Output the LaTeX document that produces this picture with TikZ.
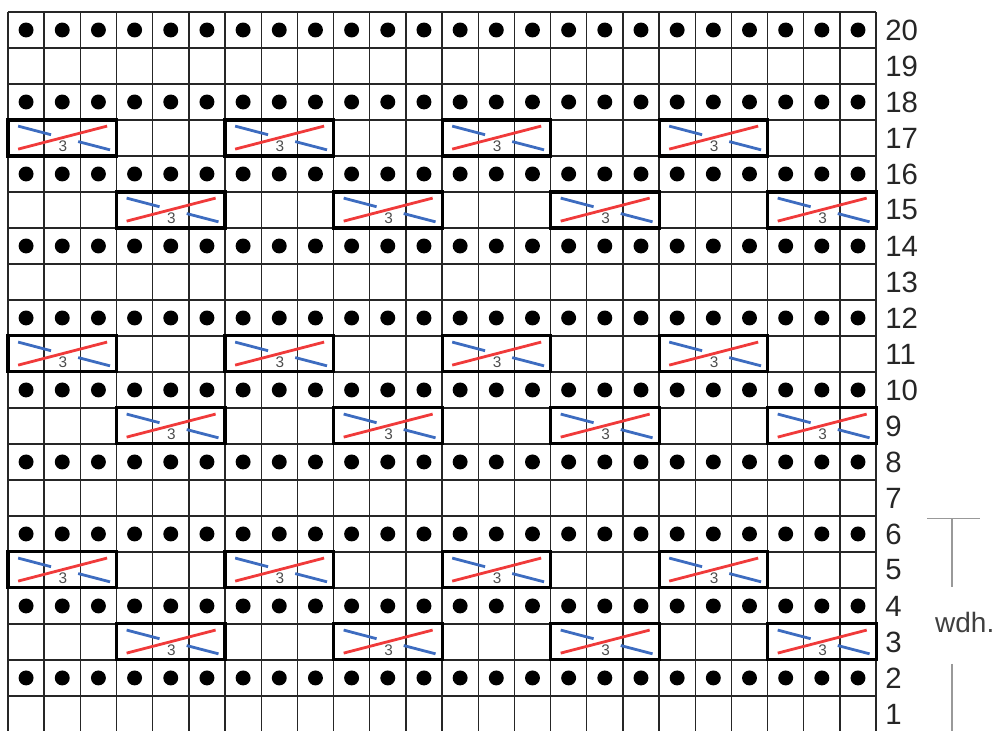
\documentclass[tikz,border=0pt]{standalone}
\usepackage{fontspec}
\setmainfont{Liberation Sans}
\usepackage{xcolor}
\usetikzlibrary{positioning}
\definecolor{strandblue}{HTML}{3D6CC0}
\definecolor{strandred}{HTML}{F03A3A}

\begin{document}
\begin{tikzpicture}[x=27.13pt,y=27pt,
    gridline/.style={black!85,line width=1pt},
    cablebox/.style={line width=2.3pt},
    frontstrand/.style={strandred,line width=2.1pt},
    backstrand/.style={strandblue,line width=2.1pt},
    rownum/.style={anchor=west,inner sep=0pt,font=\fontsize{22}{24}\selectfont,text=black!85},
    cablenum/.style={inner sep=0pt,font=\fontsize{11.5}{13}\selectfont,text=black!70},
    bracket/.style={black!40,line width=0.9pt}]
  \useasboundingbox (-0.221,0.028) rectangle (27.37,20.333);
  % chart grid
  \foreach \i in {0,...,24} \draw[gridline] (\i,0) -- (\i,20);
  \foreach \j in {0,...,20} \draw[gridline] (0,\j) -- (24,\j);
  % purl dots on even rows
  \foreach \r in {2,4,...,20}
    \foreach \c in {1,...,24}
      \fill (\c-0.5,\r-0.5) circle (5.6pt);
  % cables: bottom edge of row / column offset
  \foreach \r/\s in {16/0,14/3,10/0,8/3,4/0,2/3}
    \foreach \k in {0,...,3} {
      \begin{scope}[shift={(\s+6*\k,\r)}]
        \draw[cablebox] (0,0) rectangle (3,1);
        \draw[frontstrand] (0.28,0.19) -- (2.74,0.83);
        \draw[backstrand] (0.28,0.83) -- (1.19,0.59);
        \draw[backstrand] (1.94,0.40) -- (2.82,0.17);
        \node[cablenum] (num\r-\k) at (1.52,0.28) {3};
      \end{scope}
    }
  % row numbers
  \foreach \r in {1,...,20}
    \node[rownum] (row\r) at (24.25,\r-0.5) {\r};
  % repeat bracket
  \node[inner sep=0pt,font=\fontsize{21}{24}\selectfont,text=black!75] (wdh) at (26.45,3.03) {wdh.};
  \coordinate (wtop) at (26.10,5.94);
  \coordinate (wleft) at (25.41,5.94);
  \coordinate (wright) at (26.87,5.94);
  \coordinate (wmid) at (26.10,4.03);
  \coordinate (wlow) at (26.10,1.89);
  \coordinate (wbot) at (26.10,0);
  \draw[bracket] (wleft) -- (wright);
  \draw[bracket] (wtop) -- (wmid);
  \draw[bracket] (wlow) -- (wbot);
\end{tikzpicture}
\end{document}
